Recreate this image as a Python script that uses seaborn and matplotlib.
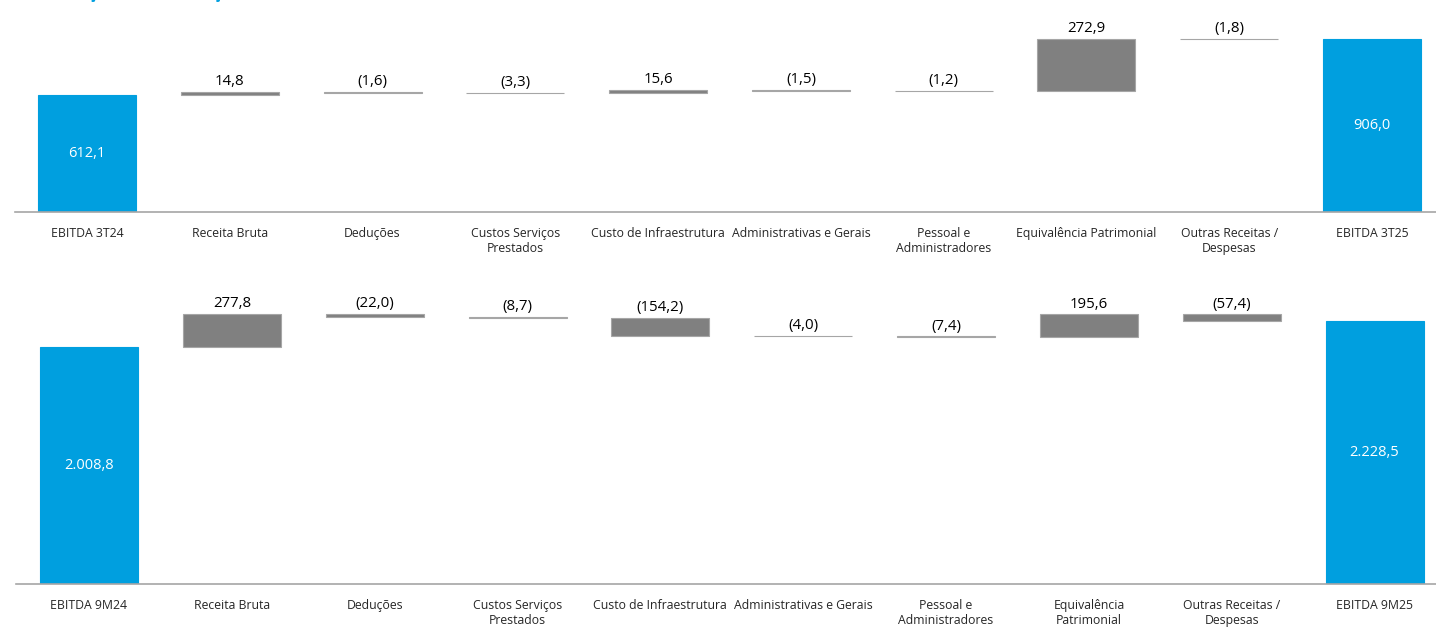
import numpy as np
import pandas as pd
import matplotlib
matplotlib.use("Agg")
import matplotlib.pyplot as plt
import seaborn as sns

# Data (R$ MM)
title = "EVOLUÇÃO E COMPOSIÇÃO DO EBITDA CONSOLIDADO (R$ MM)"

cats_3t = ["EBITDA 3T24", "Receita Bruta", "Deduções", "Custos Serviços\nPrestados",
           "Custo de Infraestrutura", "Administrativas e Gerais", "Pessoal e\nAdministradores",
           "Equivalência Patrimonial", "Outras Receitas /\nDespesas", "EBITDA 3T25"]
vals_3t = [612.1, 14.8, -1.6, -3.3, 15.6, -1.5, -1.2, 272.9, -1.8, 906.0]

cats_9m = ["EBITDA 9M24", "Receita Bruta", "Deduções", "Custos Serviços\nPrestados",
           "Custo de Infraestrutura", "Administrativas e Gerais", "Pessoal e\nAdministradores",
           "Equivalência\nPatrimonial", "Outras Receitas /\nDespesas", "EBITDA 9M25"]
vals_9m = [2008.8, 277.8, -22.0, -8.7, -154.2, -4.0, -7.4, 195.6, -57.4, 2228.5]

BLUE = "#009FDF"
GRAY = "#808080"
EDGE = "#A6A6A6"
TXT = "#262626"

sns.set_style("white")
plt.rcParams['font.family'] = ['Open Sans', 'DejaVu Sans']


def fmt(v):
    s = f"{abs(v):,.1f}".replace(",", "X").replace(".", ",").replace("X", ".")
    return f"({s})" if v < 0 else s


def waterfall(ax, cats, vals, ymax, xlim):
    n = len(vals)
    bottoms, heights = [], []
    level = 0
    for i, v in enumerate(vals):
        if i == 0 or i == n - 1:
            bottoms.append(0)
            heights.append(v)
            level = v
        else:
            new = level + v
            bottoms.append(min(level, new))
            heights.append(abs(v))
            level = new
    df = pd.DataFrame({"cat": cats, "height": heights})
    sns.barplot(data=df, x="cat", y="height", order=cats, bottom=bottoms,
                width=0.686, color=GRAY, errorbar=None, ax=ax,
                edgecolor=EDGE, linewidth=0.8, saturation=1)

    # totals in blue, steps in gray
    for i, patch in enumerate(ax.patches):
        if i == 0 or i == n - 1:
            patch.set_facecolor(BLUE)
            patch.set_edgecolor(BLUE)
            ax.text(i, heights[i] / 2, fmt(vals[i]), ha="center", va="center",
                    color="white", fontsize=10.5)
        else:
            top = bottoms[i] + heights[i]
            ax.annotate(fmt(vals[i]), (i, top), xytext=(0, 2), textcoords="offset points",
                        ha="center", va="bottom", color="black", fontsize=10.8)

    ax.set_ylim(0, ymax)
    ax.set_xlim(*xlim)
    ax.set_xlabel("")
    ax.set_ylabel("")
    ax.set_yticks([])
    ax.tick_params(axis="x", length=0, pad=11, labelsize=8.8, labelcolor=TXT)
    for s in ["top", "left", "right"]:
        ax.spines[s].set_visible(False)
    ax.spines["bottom"].set_color(EDGE)
    ax.spines["bottom"].set_linewidth(1.2)


fig = plt.figure(figsize=(14.36, 6.28), dpi=100)

ax1 = fig.add_axes([15 / 1436, 416 / 628, 1421 / 1436, 212 / 628])
waterfall(ax1, cats_3t, vals_3t, 1110, (-0.504, 9.448))

ax2 = fig.add_axes([16 / 1436, 44 / 628, 1420 / 1436, 324 / 628])
waterfall(ax2, cats_9m, vals_9m, 2746, (-0.511, 9.43))

# Title (cut off at the top edge, as in the source)
fig.text(35 / 1436, 1 + 2 / 628, title, color=BLUE, fontsize=11.5, fontweight="bold",
         ha="left", va="baseline")

fig.savefig("out.png", dpi=100)
